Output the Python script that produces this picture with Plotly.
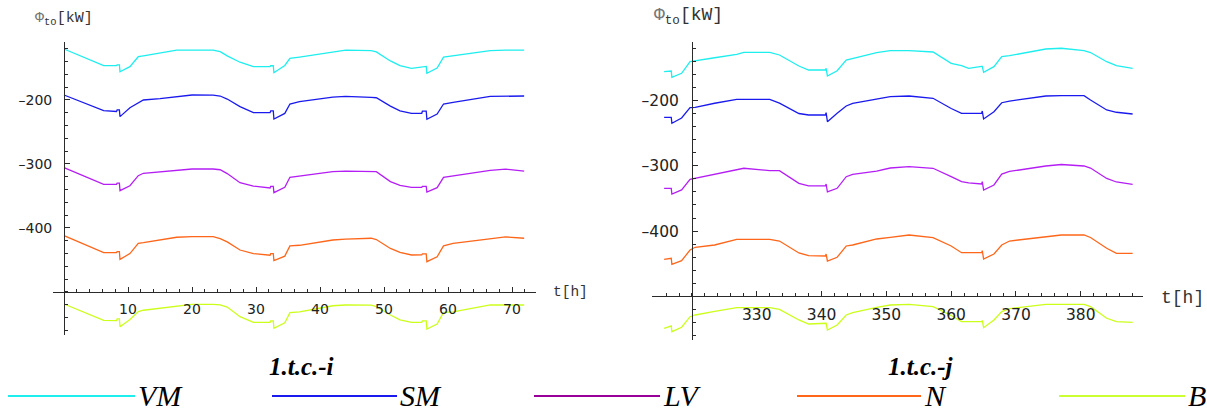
import numpy as np
import plotly.graph_objects as go

W, H = 1207, 412

# ---------------- data: left panel (1.t.c.-i) ----------------
t_left = [0, 3, 6.2, 8.2, 8.3, 8.65, 8.75, 10.3, 11.6, 12.4, 15, 17.6, 20, 23.3,
          24.4, 25.5, 27.5, 29.6, 32.2, 32.3, 32.7, 32.8, 34.5, 35.3, 36.8, 42,
          44, 48, 48.8, 51, 52.5, 54.3, 55.9, 56.0, 56.6, 56.7, 58.3, 59.3, 60.8,
          66.6, 69, 71.9]
vm_left = [-120.3, -133, -146.4, -146.4, -145, -145, -156, -148, -132.4, -131, -127,
           -122, -122, -122, -124.5, -131, -141, -148, -148, -146.5, -146.5, -157.4,
           -146, -135, -133, -124.6, -122, -123, -125, -139, -146.4, -150.5, -148,
           -147.5, -147.5, -158.3, -150, -133, -131, -123, -122, -122]
sm_left = [-192.2, -203.6, -216.5, -218, -215.6, -215.6, -226, -212, -204, -200, -198,
           -194.5, -192.2, -192.5, -193.8, -198.5, -210.4, -219.8, -219.8, -217, -217,
           -229.7, -221, -206.3, -202.6, -195.5, -194.5, -196, -196.5, -209.5, -217,
           -220.8, -220.8, -217.5, -217.5, -230.2, -222, -206.3, -203.6, -194.5,
           -193.8, -193.8]
lv_left = [-305.8, -318.5, -331.7, -331.7, -330, -330, -341.7, -334, -318.3, -314.5,
           -312, -309.4, -307.8, -307.8, -309, -315, -329.2, -334.5, -337.5, -335,
           -335, -344.8, -336.4, -320.8, -319, -312, -311, -311.5, -312, -327.6,
           -333.5, -336.5, -336.5, -335, -335, -344, -337, -320.8, -318.4, -310,
           -308, -311]
n_left = [-412, -425, -438.6, -438.6, -437, -437, -449, -440, -423.9, -423, -419,
          -414.5, -413.6, -413.6, -416.5, -421.8, -434.4, -440, -442.5, -440, -440,
          -451, -444, -428, -427, -418.75, -417.5, -416, -418, -432, -438, -442.2,
          -442, -440.5, -440.5, -452.6, -445, -428, -424, -416.5, -414, -416]
b_left = [-518.75, -531, -544.5, -544.8, -542, -542, -554.2, -543, -530.7, -528.5,
          -525.5, -522.5, -519.3, -519.5, -520, -523.5, -538.6, -547.4, -547.4, -545,
          -545, -556.8, -548, -532.3, -531, -521.5, -520.3, -520.5, -523, -536,
          -543.5, -547.4, -547.4, -545, -545, -557.8, -550, -532, -531, -520.3,
          -520.3, -520.3]

# ---------------- data: right panel (1.t.c.-j) ----------------
t_right = [315.7, 316.8, 316.9, 318.4, 319.7, 320.5, 323.5, 326.9, 328, 332, 333.5,
           336.5, 338, 340.6, 340.7, 340.9, 342.4, 343.8, 344.8, 348.5, 350.6, 353.5,
           357.2, 360, 361.6, 362.7, 364.7, 364.8, 365.0, 366.6, 367.8, 369, 374.6,
           377, 380.5, 381.5, 384, 385.5, 388]
vm_right = [-155.9, -154.8, -164.5, -158.3, -140.6, -139.1, -134.5, -129.3, -126.2,
            -126.2, -130.3, -147.2, -153.3, -153.3, -150.7, -162.5, -154.4, -138,
            -135.4, -126.8, -123.7, -123.7, -125.7, -143, -146.7, -150.7, -147.6,
            -147.6, -156.8, -148.2, -132.9, -131.4, -121.1, -120, -123.5, -126.5,
            -140.6, -146.7, -150.7]
sm_right = [-225.7, -225.7, -234.9, -226.8, -211, -210.4, -204.2, -198.2, -198.2,
            -198.2, -204, -219.9, -222.2, -222.2, -218.7, -232.5, -219.6, -208.4,
            -204.3, -197.7, -194.2, -193.1, -196.6, -212.3, -219.6, -219.6, -219.6,
            -216.1, -228.3, -217.2, -203.4, -200.8, -193.1, -192.6, -192.6, -199.2,
            -214.5, -218, -220.7]
lv_right = [-334.5, -334.5, -343.2, -337, -320.7, -319.1, -313.2, -306.5, -303.8,
            -307.5, -307.5, -326.8, -330.9, -330.9, -327.9, -340.1, -334.5, -316.7,
            -313.3, -308, -303.4, -301.4, -303.8, -316.7, -324.3, -326.3, -327.9,
            -324.3, -337.1, -329.4, -312.6, -308.7, -300.3, -298, -300.3, -303.4,
            -319.4, -324.8, -328.3]
n_right = [-443.2, -441.7, -450.8, -445.3, -429, -424.8, -421.3, -412.6, -412.6,
           -412.6, -415.2, -433.5, -437.7, -438.1, -435.1, -445.8, -440.1, -422.8,
           -421.3, -412.1, -409.5, -406, -410.1, -422.8, -433.1, -433.1, -433.1,
           -430, -442.7, -435.1, -421.3, -415.2, -408.6, -406, -406, -409.8, -426.3,
           -434, -434]
b_right = [-548.9, -545.3, -554.1, -547.3, -531.1, -528.5, -523.1, -517.3, -517.3,
           -517.3, -519.8, -536.1, -542.3, -541.2, -541.2, -551.5, -543.8, -528.5,
           -525, -517, -513.2, -512.1, -515.8, -529.3, -538.7, -538.7, -538.7,
           -536.9, -547.9, -536.1, -523.4, -518.8, -512.1, -512.1, -512.1, -515.8,
           -533.5, -538.7, -539.7]

series_names = ["VM", "SM", "LV", "N", "B"]
line_colors = ["#1EEEEE", "#1A1AEE", "#B41EF5", "#FF661A", "#CCFF1A"]
legend_colors = ["#1EEEEE", "#1A1AEE", "#990099", "#FF661A", "#CCFF33"]
left_vals = [vm_left, sm_left, lv_left, n_left, b_left]
right_vals = [vm_right, sm_right, lv_right, n_right, b_right]

y_ticks = [-200, -300, -400]
x_ticks_left = [10, 20, 30, 40, 50, 60, 70]
x_ticks_right = [330, 340, 350, 360, 370, 380]
subtitles = ["1.t.c.-i", "1.t.c.-j"]


def fx(px):
    return px / W


def fy(py):
    return 1 - py / H


fig = go.Figure()
for name, col, yl, yr in zip(series_names, line_colors, left_vals, right_vals):
    fig.add_trace(go.Scatter(x=t_left, y=yl, mode="lines", name=name,
                             line=dict(color=col, width=1.3), xaxis="x", yaxis="y",
                             showlegend=False, hoverinfo="skip"))
    fig.add_trace(go.Scatter(x=t_right, y=yr, mode="lines", name=name,
                             line=dict(color=col, width=1.3), xaxis="x2", yaxis="y2",
                             showlegend=False, hoverinfo="skip"))

# panel geometry (pixels)
panels = [
    dict(xd=(53, 536), xr=(-1.72, 73.75), yd=(335, 42), yr=(-567.2, -109.4),
         xcross=0, ycross=-500, xt=x_ticks_left, fs=14, ysoff=9,
         minx=np.arange(2, 74, 2)),
    dict(xd=(652, 1143), xr=(313.83, 389.6), yd=(340, 42), yr=(-566.8, -110.4),
         xcross=320, ycross=-500, xt=x_ticks_right, fs=15.5, ysoff=10,
         minx=np.arange(316, 390, 2)),
]
axis_color = "#2a2a2a"
layout = dict(width=W, height=H, margin=dict(l=0, r=0, t=0, b=0),
              paper_bgcolor="white", plot_bgcolor="white", showlegend=False)
for i, p in enumerate(panels):
    sx = "" if i == 0 else "2"
    xdom = [fx(p["xd"][0]), fx(p["xd"][1])]
    ydom = [fy(p["yd"][0]), fy(p["yd"][1])]
    xpos = xdom[0] + (p["xcross"] - p["xr"][0]) / (p["xr"][1] - p["xr"][0]) * (xdom[1] - xdom[0])
    ypos = ydom[0] + (p["ycross"] - p["yr"][0]) / (p["yr"][1] - p["yr"][0]) * (ydom[1] - ydom[0])
    layout["xaxis" + sx] = dict(
        domain=xdom, range=list(p["xr"]), anchor="free", position=ypos,
        showgrid=False, zeroline=False, showline=True, linecolor=axis_color,
        linewidth=1, ticks="inside", ticklen=5, tickcolor=axis_color,
        tickmode="array", tickvals=p["xt"], ticktext=[str(v) for v in p["xt"]],
        tickfont=dict(family="DejaVu Sans", size=p["fs"], color="#222"),
        ticklabelstandoff=4,
        minor=dict(tickmode="array", tickvals=list(p["minx"]), ticks="inside",
                   ticklen=3, tickcolor=axis_color),
    )
    layout["yaxis" + sx] = dict(
        domain=ydom, range=list(p["yr"]), anchor="free", position=xpos,
        showgrid=False, zeroline=False, showline=True, linecolor=axis_color,
        linewidth=1, ticks="inside", ticklen=5, tickcolor=axis_color,
        tickmode="array", tickvals=y_ticks, ticktext=["\u2013" + str(-v) for v in y_ticks],
        tickfont=dict(family="DejaVu Sans", size=p["fs"], color="#222"),
        ticklabelstandoff=p["ysoff"],
        minor=dict(tickmode="array", tickvals=list(np.arange(-560, -100, 20)),
                   ticks="inside", ticklen=3, tickcolor=axis_color),
    )
fig.update_layout(**layout)

ann = []
shapes = []
mono = "Liberation Mono"
# axis labels
for (xp, yp, fs) in [(33, 19, 15), (652, 17, 18)]:
    ann.append(dict(x=fx(xp), y=fy(yp), xref="paper", yref="paper", xanchor="left",
                    yanchor="middle", showarrow=False,
                    text='<span style="color:#777">\u03a6</span><sub>to</sub>[kW]',
                    font=dict(family=mono, size=fs, color="#333")))
for (xp, yp, fs) in [(551, 292, 14.5), (1159, 298, 18)]:
    ann.append(dict(x=fx(xp), y=fy(yp), xref="paper", yref="paper", xanchor="left",
                    yanchor="middle", showarrow=False, text="t[h]",
                    font=dict(family=mono, size=fs, color="#333")))
# subtitles
for xp, txt in zip([301, 921], subtitles):
    ann.append(dict(x=fx(xp), y=fy(366), xref="paper", yref="paper", xanchor="center",
                    yanchor="middle", showarrow=False, text="<b><i>" + txt + "</i></b>",
                    font=dict(family="Liberation Serif", size=25, color="black")))
# custom legend
leg_lines = [(8, 135), (272, 397), (534, 660), (797, 921), (1059, 1185)]
for (x0, x1), name, col in zip(leg_lines, series_names, legend_colors):
    shapes.append(dict(type="line", xref="paper", yref="paper", x0=fx(x0), x1=fx(x1),
                       y0=fy(396), y1=fy(396), line=dict(color=col, width=2)))
    ann.append(dict(x=fx(x1 + 1), y=fy(414), xref="paper", yref="paper", xanchor="left",
                    yanchor="bottom", showarrow=False, text="<i>" + name + "</i>",
                    font=dict(family="Liberation Serif", size=30, color="black")))
fig.update_layout(annotations=ann, shapes=shapes)

fig.write_html("out.html", config={"displayModeBar": False},
               post_script="document.body.style.margin='0px';")
